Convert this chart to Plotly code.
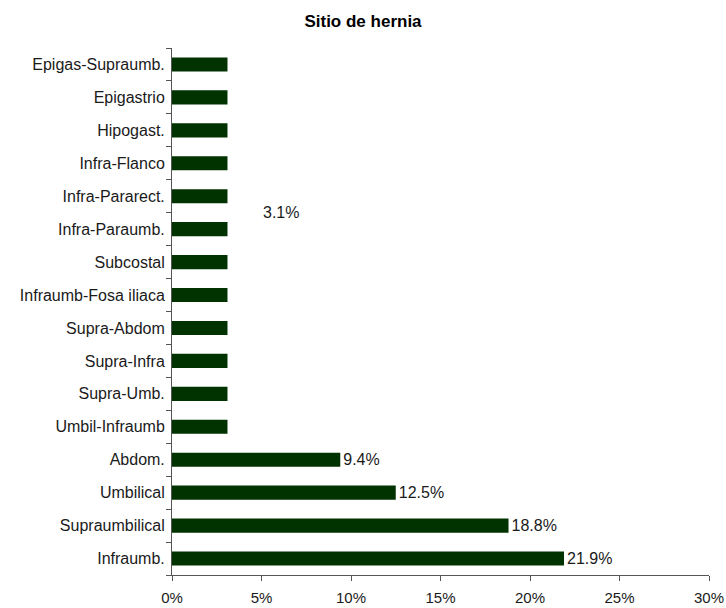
import plotly.graph_objects as go

# Hernia site shares (%), listed bottom to top
categories = [
    "Infraumb.", "Supraumbilical", "Umbilical", "Abdom.", "Umbil-Infraumb",
    "Supra-Umb.", "Supra-Infra", "Supra-Abdom", "Infraumb-Fosa iliaca",
    "Subcostal", "Infra-Paraumb.", "Infra-Pararect.", "Infra-Flanco",
    "Hipogast.", "Epigastrio", "Epigas-Supraumb.",
]
values = [21.9, 18.8, 12.5, 9.4, 3.1, 3.1, 3.1, 3.1, 3.1, 3.1, 3.1, 3.1, 3.1, 3.1, 3.1, 3.1]
x_ticks = [0, 5, 10, 15, 20, 25, 30]
x_tick_labels = ["0%", "5%", "10%", "15%", "20%", "25%", "30%"]

# Individual labels only on the larger bars; the shared 3.1% gets one label
shared_value = 3.1
bar_text = [f"{v:.1f}%" if v != shared_value else "" for v in values]

font_family = "Liberation Sans, Arial, sans-serif"
ink = "#1a1a1a"

fig = go.Figure(
    go.Bar(
        y=categories,
        x=values,
        orientation="h",
        marker=dict(color="#013300", line=dict(width=0)),
        text=bar_text,
        textposition="outside",
        constraintext="none",
        textfont=dict(family=font_family, size=16, color=ink),
        cliponaxis=False,
        hoverinfo="x+y",
    )
)

fig.add_annotation(
    x=shared_value + 3.0,
    y=10.5,
    xref="x",
    yref="y",
    text=f"{shared_value:.1f}%",
    showarrow=False,
    xanchor="center",
    yanchor="middle",
    font=dict(family=font_family, size=16, color=ink),
)

fig.update_layout(
    width=726,
    height=608,
    margin=dict(l=172, r=17, t=48, b=33, autoexpand=False),
    paper_bgcolor="white",
    plot_bgcolor="white",
    bargap=0.57,
    showlegend=False,
    title=dict(
        text="<b>Sitio de hernia</b>",
        x=0.5,
        xanchor="center",
        y=0.965,
        yanchor="middle",
        font=dict(family=font_family, size=17, color="black"),
    ),
    font=dict(family=font_family, size=15, color=ink),
)

fig.update_xaxes(
    range=[0, 30],
    tickvals=x_ticks,
    ticktext=x_tick_labels,
    showgrid=False,
    zeroline=False,
    showline=True,
    linecolor="#555555",
    linewidth=1,
    ticks="outside",
    ticklen=5,
    tickcolor="#555555",
    ticklabelstandoff=4,
    tickfont=dict(family=font_family, size=15, color=ink),
    automargin=False,
    fixedrange=True,
)

fig.update_yaxes(
    categoryorder="array",
    categoryarray=categories,
    showgrid=False,
    zeroline=False,
    showline=True,
    linecolor="#555555",
    linewidth=1,
    ticks="outside",
    ticklen=5,
    tickcolor="#555555",
    tickson="boundaries",
    ticklabelstandoff=3,
    tickfont=dict(family=font_family, size=16, color=ink),
    automargin=False,
    fixedrange=True,
)

fig.write_html("out.html")
